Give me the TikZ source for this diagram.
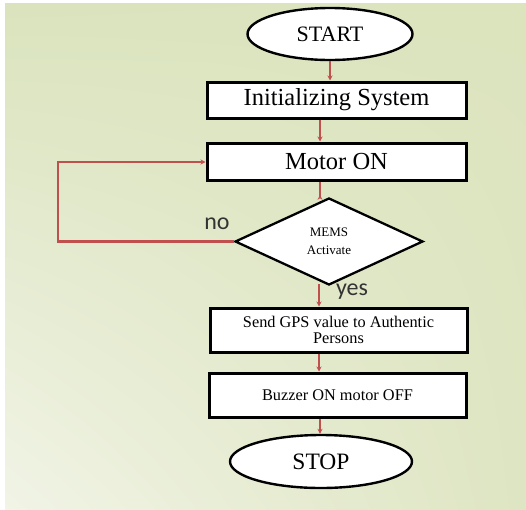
\documentclass[tikz,border=0pt]{standalone}
\usepackage{fontspec}
\setmainfont{Liberation Serif}
\newfontfamily\calib{Carlito}
\usetikzlibrary{shapes.geometric,arrows.meta,shadings}
\definecolor{bgA}{HTML}{DAE3BD}
\definecolor{bgB}{HTML}{DCE4BE}
\definecolor{bgC}{HTML}{F1F4E6}
\definecolor{bgD}{HTML}{DEE5C2}
\definecolor{arrred}{HTML}{C0504D}
\tikzset{
  procbox/.style={draw=black, line width=3pt, fill=white, minimum width=259pt, inner sep=0pt},
  term/.style={draw=black, ellipse, line width=2.4pt, fill=white, inner sep=0pt},
  decis/.style={draw=black, diamond, line width=2.3pt, fill=white, inner sep=0pt, minimum width=188pt, minimum height=87pt, aspect=2.16},
  arr/.style={draw=arrred, line width=2.5pt, -{Stealth[length=5pt,width=5pt]}},
  lbl/.style={font=\calib\fontsize{24}{26}\selectfont, text=black!80, inner sep=0pt}
}
\begin{document}
\begin{tikzpicture}[x=1pt,y=-1pt]
\useasboundingbox (0,0) rectangle (526,509);
\fill[white] (0,0) rectangle (526,509);
\shade[upper left=bgA, upper right=bgB, lower left=bgC, lower right=bgD] (5,3) rectangle (526,509);

\node[term, minimum width=165pt, minimum height=52pt, font=\fontsize{22}{24}\selectfont] (start) at (330,34) {START};
\node[procbox, minimum height=36pt, font=\fontsize{24.5}{27}\selectfont] (init) at (336.5,100) {Initializing System};
\node[procbox, minimum height=37pt, font=\fontsize{24.5}{27}\selectfont] (motor) at (336.5,161.5) {Motor ON};
\node[decis, font=\fontsize{13}{18}\selectfont, align=center] (mems) at (329,241.5) {MEMS\\Activate};
\node[procbox, minimum width=257pt, minimum height=44pt, font=\fontsize{16.3}{16.7}\selectfont, align=center] (gps) at (338.5,330) {Send GPS value to Authentic\\Persons};
\node[procbox, minimum width=257pt, minimum height=44pt, font=\fontsize{16.3}{18}\selectfont] (buzz) at (337.5,395) {Buzzer ON motor OFF};
\node[term, minimum width=182pt, minimum height=53pt, font=\fontsize{23.5}{26}\selectfont] (stop) at (321,461.5) {STOP};

\node[lbl] (no) at (217,224) {no};
\node[lbl] (yes) at (352,292) {yes};

\draw[arr] (start.south) -- (start.south |- init.north);
\draw[arr] ([xshift=-16.5pt]init.south) -- ([xshift=-16.5pt]motor.north);
\draw[arr] ([xshift=-16.5pt]motor.south) -- ([xshift=-16.5pt]motor.south |- mems.north) -- +(0,-2);
\draw[arr] ([xshift=-10pt,yshift=2pt]mems.south) -- ([xshift=-10pt]mems.south |- gps.north);
\draw[arr] ([xshift=-19.5pt]gps.south) -- ([xshift=-19.5pt]gps.south |- buzz.north);
\draw[arr] ([xshift=-17.5pt]buzz.south) -- ([xshift=-17.5pt]buzz.south |- stop.north);
\draw[arr] (mems.west) -- (58,241.5) -- (58,162) -- (motor.west |- 0,162);
\end{tikzpicture}
\end{document}
